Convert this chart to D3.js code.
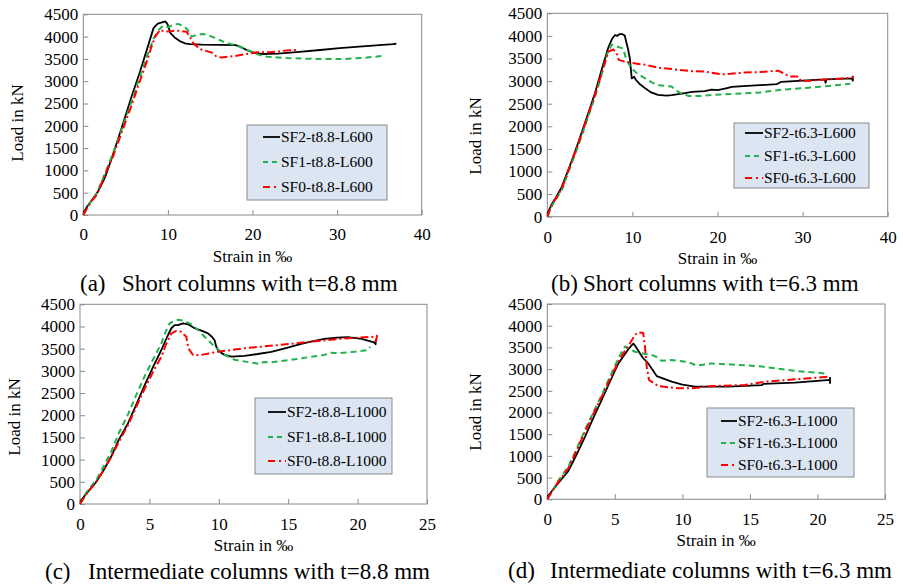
<!DOCTYPE html>
<html>
<head>
  <meta charset="utf-8">
  <title>Load-strain curves</title>
  <style>
  body { margin: 0; background: #fff; }
  svg text { font-family: "Liberation Serif", "Times New Roman", Times, serif !important; fill: #000; }
  </style>
</head>
<body>
  <svg width="903" height="585"></svg>
  <script src="https://d3js.org/d3.v7.min.js"></script>
  <script>
    // series names
    var seriesKeys = ["SF2", "SF1", "SF0"];

    // (a) short columns t=8.8 : [strain ‰, load kN]
    var a_SF2 = [[0,50],[0.5,200],[1,330],[1.5,460],[2,620],[2.6,860],[3.5,1350],[4.7,2050],[5.7,2650],[6.7,3210],[7.5,3700],[8.3,4190],[8.8,4290],[9.3,4320],[9.7,4340],[9.95,4280],[10.3,4080],[10.8,3980],[11.4,3900],[12,3850],[12.6,3830],[14,3820],[16,3815],[18,3810],[18.6,3770],[19.3,3700],[20.1,3640],[21.1,3610],[23,3620],[25.2,3650],[28,3700],[30.3,3740],[33,3780],[35,3810],[36.6,3830],[37,3840]];
    var a_SF1 = [[0,0],[0.5,180],[1,330],[1.6,490],[2.5,900],[3.5,1380],[4.5,1900],[5.5,2430],[6.5,3000],[7.5,3550],[8.3,3950],[8.9,4150],[9.4,4240],[10,4210],[10.6,4260],[11.2,4285],[11.8,4240],[12.3,4160],[12.8,4000],[13.5,4040],[14.2,4060],[15.2,4000],[16.5,3890],[17.5,3830],[18.3,3790],[19.1,3720],[19.9,3660],[20.8,3590],[21.7,3550],[24,3520],[27.2,3500],[31,3500],[33.5,3530],[35.5,3570]];
    var a_SF0 = [[0,0],[0.5,170],[1,320],[1.6,450],[2.5,880],[3.5,1310],[4.5,1830],[5.5,2350],[6.5,2900],[7.5,3440],[8,3740],[8.5,4000],[9.07,4150],[9.66,4110],[10.4,4120],[11,4135],[11.6,4125],[12.2,4110],[12.6,3990],[13,3850],[13.8,3720],[15.2,3640],[15.7,3560],[16.3,3530],[17.2,3550],[18.1,3570],[19.3,3610],[20.5,3650],[22,3650],[23.2,3670],[24,3690],[25.2,3700]];

    // (b) short columns t=6.3
    var b_SF2 = [[0,60],[0.5,270],[1,420],[1.7,660],[2.6,1100],[3.6,1620],[4.6,2170],[5.6,2730],[6.4,3260],[7.2,3760],[7.6,3930],[7.96,4020],[8.2,4000],[8.5,4040],[8.8,4040],[9.1,4010],[9.3,3850],[9.5,3700],[9.7,3500],[9.8,3300],[9.92,3060],[10.1,3080],[10.2,3100],[10.4,3030],[10.9,2930],[11.5,2840],[12.2,2750],[13,2695],[14,2680],[14.6,2690],[16,2730],[17,2760],[18.5,2780],[19.3,2810],[20,2800],[21,2840],[21.7,2870],[23,2890],[25,2910],[27,2935],[27.5,2985],[29,3000],[31,3020],[32.6,3040],[32.7,2960],[32.8,3040],[34,3050],[35.8,3060],[35.9,3010],[35.9,3100]];
    var b_SF1 = [[0,0],[0.5,230],[1,380],[1.7,590],[2.6,1050],[3.6,1550],[4.6,2100],[5.6,2650],[6.4,3150],[7,3580],[7.57,3810],[8.1,3770],[8.9,3720],[9.3,3470],[9.9,3280],[10.6,3160],[11.5,3060],[12.3,2970],[13,2910],[14.6,2880],[15.1,2800],[15.6,2740],[16.6,2670],[18,2670],[19.3,2690],[21,2710],[23.2,2730],[25,2750],[27.1,2800],[29,2830],[31.1,2860],[33.5,2900],[35.6,2940]];
    var b_SF0 = [[0,0],[0.5,240],[1,400],[1.7,620],[2.6,1080],[3.6,1590],[4.6,2140],[5.6,2690],[6.4,3180],[7.17,3650],[7.76,3700],[8.15,3620],[8.4,3470],[9.1,3430],[10,3400],[11.5,3360],[13,3300],[15.4,3250],[17,3220],[18.5,3210],[19.5,3180],[20.5,3150],[21.5,3160],[23.2,3190],[25,3200],[27.1,3230],[27.7,3180],[28.5,3100],[29.5,3100],[29.8,3000],[31,3010],[33,3040],[35,3060],[35.9,3080],[35.9,3120]];

    // (c) intermediate columns t=8.8
    var c_SF2 = [[0,50],[0.5,250],[1.17,500],[1.7,760],[2.25,1070],[2.8,1450],[3.46,1820],[4,2200],[4.66,2680],[5.3,3110],[5.86,3470],[6.3,3780],[6.58,3960],[6.82,4030],[7.06,4030],[7.42,4070],[7.78,4050],[8.26,3960],[8.8,3900],[9.22,3845],[9.5,3770],[9.7,3690],[9.8,3560],[9.94,3470],[10.2,3400],[10.42,3360],[10.9,3320],[11.86,3340],[12.8,3380],[13.78,3430],[14.9,3520],[15.94,3610],[16.8,3670],[17.62,3720],[18.5,3750],[19.3,3760],[20.3,3720],[21.18,3640],[21.3,3600],[21.3,3700]];
    var c_SF1 = [[0,0],[0.5,280],[1.17,540],[1.7,850],[2.25,1180],[2.8,1600],[3.46,2020],[4,2420],[4.66,2880],[5.3,3280],[5.86,3620],[6.2,3900],[6.46,4070],[6.8,4130],[7.06,4150],[7.5,4130],[8.14,4030],[8.6,3890],[8.98,3770],[9.4,3640],[9.7,3545],[10.42,3360],[11.14,3250],[12.35,3185],[13,3155],[13.2,3200],[13.7,3190],[14.5,3220],[15.46,3260],[16.5,3310],[17.62,3360],[18,3410],[18.58,3400],[19.78,3430],[20.74,3470],[20.9,3545]];
    var c_SF0 = [[0,0],[0.5,240],[1.17,500],[1.7,760],[2.25,1066],[2.8,1400],[3.46,1780],[4,2150],[4.66,2600],[5.3,3000],[5.86,3320],[6.2,3600],[6.58,3845],[6.94,3900],[7.3,3880],[7.66,3770],[7.8,3510],[8.14,3360],[8.74,3360],[9.94,3430],[11.86,3510],[14.26,3580],[16.66,3660],[19.06,3730],[21.22,3770],[21.4,3790],[21.3,3650]];

    // (d) intermediate columns t=6.3
    var d_SF2 = [[0,60],[0.7,330],[1.55,650],[2.2,1050],[2.79,1440],[3.4,1870],[4.03,2290],[4.65,2720],[5.26,3130],[6,3460],[6.37,3590],[6.6,3490],[6.9,3340],[7.1,3250],[7.47,3130],[7.8,2980],[8.1,2840],[9.21,2710],[10,2640],[10.93,2595],[13.4,2595],[15.87,2630],[16,2660],[18.33,2690],[20.93,2750],[20.93,2680],[20.93,2820]];
    var d_SF1 = [[0,0],[0.7,380],[1.55,750],[2.2,1180],[2.79,1600],[3.4,2000],[4.03,2400],[4.65,2830],[5.26,3250],[5.75,3520],[6,3480],[6.49,3400],[7.23,3350],[7.7,3330],[8.1,3280],[8.47,3190],[9.2,3210],[10.44,3160],[11.06,3080],[12.17,3130],[14,3100],[15.87,3060],[18.33,2960],[20.56,2900],[20.6,2790]];
    var d_SF0 = [[0,0],[0.7,350],[1.55,715],[2.2,1140],[2.79,1560],[3.4,1960],[4.03,2365],[4.65,2780],[5.26,3170],[5.7,3400],[6.12,3594],[6.49,3785],[6.74,3847],[7.1,3830],[7.23,3516],[7.36,3056],[7.53,2749],[8.22,2610],[9.7,2557],[10.7,2557],[12.17,2610],[14.6,2633],[16.1,2710],[18.33,2764],[20.93,2826]];

    var yTicks = [0, 500, 1000, 1500, 2000, 2500, 3000, 3500, 4000, 4500];
    var xTicksShort = [0, 10, 20, 30, 40];
    var xTicksInter = [0, 5, 10, 15, 20, 25];

    var legendA = ["SF2-t8.8-L600", "SF1-t8.8-L600", "SF0-t8.8-L600"];
    var legendB = ["SF2-t6.3-L600", "SF1-t6.3-L600", "SF0-t6.3-L600"];
    var legendC = ["SF2-t8.8-L1000", "SF1-t8.8-L1000", "SF0-t8.8-L1000"];
    var legendD = ["SF2-t6.3-L1000", "SF1-t6.3-L1000", "SF0-t6.3-L1000"];

    var captionTags = ["(a)", "(b)", "(c)", "(d)"];
    var captions = ["Short columns with t=8.8 mm", "Short columns with t=6.3 mm",
                    "Intermediate columns with t=8.8 mm", "Intermediate columns with t=6.3 mm"];

    var serif = '"Liberation Serif", "Times New Roman", Times, serif';

    var style = {
      SF2: { color: "#000000", dash: null, width: 1.8 },
      SF1: { color: "#22b14c", dash: "6,4", width: 2 },
      SF0: { color: "#ff0000", dash: "8,3,2,3", width: 2 }
    };

    var panels = [
      { data: [a_SF2, a_SF1, a_SF0], xMax: 40, xTicks: xTicksShort, legend: legendA,
        l: 83.3, r: 421.7, t: 14.3, b: 215, ylab: [17, 123],
        box: [247, 125, 140, 75], rows: [12, 37, 62], line: [16, 33],
        xpad: 13, cap: [80, 122, 291] },
      { data: [b_SF2, b_SF1, b_SF0], xMax: 40, xTicks: xTicksShort, legend: legendB,
        l: 547.3, r: 887.7, t: 13.3, b: 216.7, ylab: [475, 136],
        box: [734, 123, 135, 65], rows: [10, 33, 55], line: [11, 29],
        xpad: 14, cap: [551, 583, 291] },
      { data: [c_SF2, c_SF1, c_SF0], xMax: 25, xTicks: xTicksInter, legend: legendC,
        l: 80, r: 427, t: 304.3, b: 504, ylab: [14, 417],
        box: [255, 398, 137, 76], rows: [14, 39, 63], line: [13, 31],
        xpad: 14, cap: [45, 88, 579] },
      { data: [d_SF2, d_SF1, d_SF0], xMax: 25, xTicks: xTicksInter, legend: legendD,
        l: 547.3, r: 885, t: 304, b: 499.3, ylab: [475, 412],
        box: [707, 408, 147, 69], rows: [13, 35, 57], line: [14, 30],
        xpad: 14, cap: [508, 550, 578] }
    ];

    var svg = d3.select("svg");

    panels.forEach(function (p, i) {
      var x = d3.scaleLinear().domain([0, p.xMax]).range([p.l, p.r]);
      var y = d3.scaleLinear().domain([0, 4500]).range([p.b, p.t]);
      var g = svg.append("g").attr("font-family", serif);

      // plot border
      g.append("rect")
        .attr("x", p.l).attr("y", p.t)
        .attr("width", p.r - p.l).attr("height", p.b - p.t)
        .attr("fill", "none").attr("stroke", "#8a8a8a").attr("stroke-width", 1);

      // axes with inside ticks
      var ya = g.append("g").attr("transform", "translate(" + p.l + ",0)")
        .call(d3.axisLeft(y).tickValues(yTicks).tickSize(-5).tickPadding(5).tickFormat(d3.format("d")));
      var xa = g.append("g").attr("transform", "translate(0," + p.b + ")")
        .call(d3.axisBottom(x).tickValues(p.xTicks).tickSize(-5).tickPadding(p.xpad).tickFormat(d3.format("d")));
      [ya, xa].forEach(function (a) {
        a.attr("font-family", serif).attr("font-size", 17);
        a.select(".domain").remove();
        a.selectAll(".tick line").attr("stroke", "#8a8a8a");
        a.selectAll(".tick text").attr("fill", "#000");
      });

      // axis titles
      g.append("text")
        .attr("transform", "translate(" + p.ylab[0] + "," + p.ylab[1] + ") rotate(-90)")
        .attr("text-anchor", "middle").attr("dy", "0.35em")
        .attr("font-size", 17).text("Load in kN");
      g.append("text")
        .attr("x", (p.l + p.r) / 2).attr("y", p.b + 47)
        .attr("text-anchor", "middle")
        .attr("font-size", 17).text("Strain in \u2030");

      // curves
      var line = d3.line().x(d => x(d[0])).y(d => y(d[1]));
      p.data.forEach(function (series, k) {
        var s = style[seriesKeys[k]];
        g.append("path")
          .attr("d", line(series))
          .attr("fill", "none")
          .attr("stroke", s.color)
          .attr("stroke-width", s.width)
          .attr("stroke-dasharray", s.dash)
          .attr("stroke-linejoin", "round");
      });

      // legend
      var lg = g.append("g").attr("transform", "translate(" + p.box[0] + "," + p.box[1] + ")");
      lg.append("rect").attr("width", p.box[2]).attr("height", p.box[3])
        .attr("fill", "#dce6f2").attr("stroke", "#8a8a8a").attr("stroke-width", 1);
      p.legend.forEach(function (name, k) {
        var s = style[seriesKeys[k]];
        lg.append("line")
          .attr("x1", p.line[0]).attr("x2", p.line[1])
          .attr("y1", p.rows[k]).attr("y2", p.rows[k])
          .attr("stroke", s.color).attr("stroke-width", s.width)
          .attr("stroke-dasharray", k == 1 ? "5,4" : (k == 2 ? "7,4,2,4" : null));
        lg.append("text")
          .attr("x", p.line[1] + 1).attr("y", p.rows[k]).attr("dy", "0.35em")
          .attr("font-size", 15.5).text(name);
      });

      // caption
      g.append("text").attr("x", p.cap[0]).attr("y", p.cap[2])
        .attr("font-size", 23).text(captionTags[i]);
      g.append("text").attr("x", p.cap[1]).attr("y", p.cap[2])
        .attr("font-size", 23).text(captions[i]);
    });
  </script>
</body>
</html>
